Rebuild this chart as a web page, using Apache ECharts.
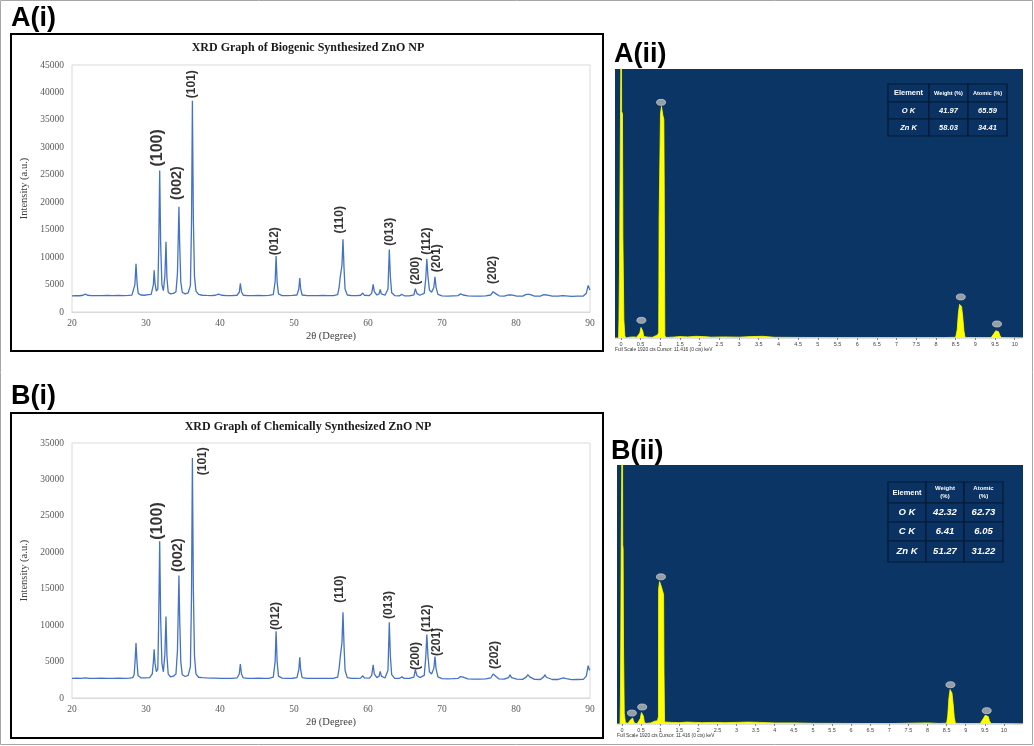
<!DOCTYPE html>
<html><head><meta charset="utf-8">
<script src="https://cdn.jsdelivr.net/npm/echarts@6/dist/echarts.min.js"></script>
<style>html,body{margin:0;padding:0;background:#fff}#c{width:1034px;height:746px}</style>
</head><body><div id="c"></div>
<script>
// ---------------- DATA ----------------
const xrdTicksX = [20, 30, 40, 50, 60, 70, 80, 90];
const xrdBiogenic = [[20,2950],[20.5,2980],[21,2960],[21.5,3050],[21.8,3250],[22.1,3050],[22.6,2980],[23.2,3000],[24,2970],[24.8,3010],[25.5,2980],[26.3,3020],[27,3000],[27.6,3040],[28.1,3080],
[28.35,3300],[28.5,5000],[28.65,8800],[28.8,5200],[28.95,3400],[29.3,3100],[29.8,3050],[30.3,3150],[30.5,3450],[30.7,3200],[30.9,3500],
[31.0,5000],[31.1,7600],[31.22,5200],[31.4,3800],[31.6,4200],[31.72,12000],[31.85,25800],[31.98,12500],[32.15,5000],[32.35,3900],
[32.55,6500],[32.7,12800],[32.83,6200],[33.0,3600],[33.3,3300],[33.7,3400],[34.05,3700],
[34.25,7000],[34.35,13000],[34.45,19150],[34.55,12500],[34.7,5500],[34.9,3600],[35.3,3300],[35.7,3500],[36.0,4800],
[36.15,16000],[36.27,38500],[36.4,17000],[36.55,6500],[36.75,3800],[37.1,3200],[37.6,3050],[38.2,3020],[38.8,3000],[39.4,3050],[39.8,3250],[40.2,3050],[40.9,2980],[41.6,3000],[42.3,3050],
[42.6,3600],[42.75,5200],[42.9,3700],[43.15,3050],[43.8,2980],[44.5,3000],[45.2,3040],[45.9,3000],[46.6,3020],[47.2,3150],
[47.45,5500],[47.58,10200],[47.72,5500],[47.9,3300],[48.4,3000],[49.1,2990],[49.8,3020],[50.4,3100],
[50.65,4200],[50.78,6200],[50.9,4200],[51.1,3100],[51.8,2980],[52.5,3000],[53.2,2970],[53.9,3010],[54.6,2980],[55.3,3000],[55.9,3150],
[56.1,4500],[56.22,6100],[56.35,5800],[56.48,8500],[56.62,13250],[56.76,8000],[56.9,4200],[57.2,3100],[57.8,3000],[58.5,2980],[59.0,3050],[59.3,3450],[59.5,3050],[60.2,3000],[60.5,3400],
[60.7,5050],[60.85,3700],[61.2,3100],[61.5,3300],[61.65,4100],[61.8,3300],[62.3,3050],[62.7,4200],
[62.88,11400],[63.02,6500],[63.2,3500],[63.6,3000],[64.2,2950],[64.6,3200],[64.9,2950],[65.6,2950],[66.2,3100],
[66.4,4250],[66.6,3400],[67.0,3050],[67.6,3400],[67.8,6000],[67.95,9700],[68.1,6500],[68.3,4000],[68.6,3600],[68.9,4500],[69.05,6400],[69.2,4500],[69.45,3200],
[70,2950],[70.8,2900],[71.5,2950],[72.2,3000],[72.5,3300],[72.65,3500],[72.85,3100],[73.5,2950],[74.3,2900],[75.1,2900],[75.9,2950],[76.6,3100],[76.9,3700],[77.05,3950],[77.3,3300],[77.7,2950],
[78.4,2900],[79.0,3100],[79.2,3450],[79.4,3100],[80.1,2900],[80.9,2900],[81.4,3200],[81.6,3450],[81.85,3200],[82.5,2900],[83.3,2880],[83.75,3150],[83.9,3450],[84.1,3100],[84.9,2880],[85.7,2880],
[86.3,3000],[86.45,3200],[86.7,2950],[87.5,2850],[88.3,2880],[89.1,2900],[89.5,3400],[89.75,4850],[89.9,4300],[90,4000]];

const xrdChemical = [[20,2700],[20.6,2720],[21.2,2680],[21.8,2750],[22.4,2700],[23.1,2690],[23.9,2720],[24.7,2700],[25.5,2680],[26.3,2720],[27.1,2700],[27.8,2730],[28.2,2800],
[28.4,3200],[28.52,5000],[28.65,7550],[28.78,5000],[28.92,3100],[29.3,2780],[29.9,2750],[30.5,2800],[30.85,3300],[31.0,5000],[31.1,6700],[31.22,4800],[31.4,3600],[31.6,4000],
[31.72,11000],[31.85,21500],[31.98,11000],[32.15,4800],[32.35,3600],[32.55,6000],[32.7,11200],[32.83,5800],[33.0,3300],[33.3,2900],[33.7,3000],[34.05,3300],
[34.25,6500],[34.35,11500],[34.45,16800],[34.55,11000],[34.7,5000],[34.9,3200],[35.3,2950],[35.7,3100],[36.0,4300],[36.15,14000],[36.27,32950],[36.4,15000],[36.55,5800],[36.75,3300],
[37.1,2850],[37.6,2800],[38.2,2760],[38.8,2740],[39.4,2720],[40.1,2700],[40.9,2690],[41.6,2700],[42.3,2750],[42.6,3300],[42.75,4650],[42.9,3300],[43.15,2750],[43.8,2690],[44.5,2700],
[45.2,2720],[45.9,2690],[46.6,2700],[47.2,2850],[47.45,5000],[47.58,9150],[47.72,5000],[47.9,3000],[48.4,2720],[49.1,2700],[49.8,2710],[50.4,2800],[50.65,3900],[50.78,5600],[50.9,3900],
[51.1,2800],[51.8,2690],[52.5,2700],[53.2,2680],[53.9,2700],[54.6,2690],[55.3,2700],[55.9,2850],[56.1,4100],[56.22,5350],[56.35,5100],[56.48,7600],[56.62,11750],[56.76,7200],[56.9,3800],
[57.2,2800],[57.8,2700],[58.5,2680],[59.0,2720],[59.3,3050],[59.5,2750],[60.2,2720],[60.5,3100],[60.7,4550],[60.85,3300],[61.2,2800],[61.5,3000],[61.65,3650],[61.8,3000],[62.3,2750],
[62.7,3800],[62.88,10400],[63.02,5800],[63.2,3200],[63.6,2700],[64.2,2680],[64.6,2900],[64.9,2680],[65.6,2680],[66.2,2850],[66.4,3900],[66.6,3100],[67.0,2800],[67.6,3100],[67.8,5500],
[67.95,8700],[68.1,5800],[68.3,3600],[68.6,3300],[68.9,4100],[69.05,5700],[69.2,4000],[69.45,2900],[70,2650],[70.8,2620],[71.5,2650],[72.2,2700],[72.5,2950],[72.65,3200],[72.85,2850],
[73.5,2620],[74.3,2600],[75.1,2580],[75.9,2620],[76.6,2750],[76.9,3300],[77.05,3550],[77.3,2950],[77.7,2620],[78.4,2580],[79.0,2800],[79.2,3200],[79.4,2800],[80.1,2580],[80.9,2560],
[81.4,2900],[81.6,3200],[81.85,2900],[82.5,2560],[83.3,2540],[83.75,2900],[83.9,3200],[84.1,2850],[84.9,2540],[85.7,2540],[86.4,2750],[86.6,3000],[86.8,2650],[87.5,2520],[88.3,2540],
[89.1,2560],[89.5,3000],[89.75,4450],[89.9,3900],[90,3800]];

const hklNames = ['(100)','(002)','(101)','(012)','(110)','(013)','(200)','(112)','(201)','(202)'];
const hklA_theta = [31.5, 34.2, 36.2, 47.4, 56.2, 62.9, 66.5, 67.9, 69.3, 76.9];
const hklA_int   = [29900, 23500, 41500, 12900, 16800, 14600, 7500, 12900, 9800, 7650];
const hklB_theta = [31.5, 34.3, 37.7, 47.5, 56.2, 62.8, 66.5, 67.9, 69.3, 77.1];
const hklB_int   = [24300, 19600, 32500, 11250, 14950, 12750, 5750, 10950, 7700, 5900];

const edsTicks = [0,0.5,1,1.5,2,2.5,3,3.5,4,4.5,5,5.5,6,6.5,7,7.5,8,8.5,9,9.5,10];
const edsFullScale = 1920;
const edsA = [[-0.15,0],[-0.06,0],[-0.05,131],[-0.035,535],[-0.01,1617],[0.005,1617],[0.012,2600],[0.018,1617],[0.04,1600],[0.05,726],[0.075,131],[0.1,15],[0.13,0],
[0.2,5],[0.3,8],[0.4,6],[0.45,8],[0.48,35],[0.51,75],[0.53,83],[0.555,50],[0.58,10],[0.62,4],[0.7,6],[0.8,5],[0.85,18],[0.93,22],[0.96,40],[0.97,850],[1.0,860],[1.005,1600],
[1.03,1653],[1.05,1640],[1.065,1590],[1.09,1560],[1.1,1100],[1.115,20],[1.14,4],[1.3,6],[1.5,10],[1.7,8],[1.9,12],[2.1,10],[2.3,6],[2.6,8],[3.0,6],[3.3,10],[3.6,12],[3.9,5],
[4.5,4],[5.5,3],[6.5,3],[7.5,3],[8.2,3],[8.5,5],[8.54,60],[8.57,180],[8.6,240],[8.62,250],[8.65,225],[8.68,150],[8.71,50],[8.74,4],[9.0,3],[9.4,3],[9.44,10],[9.48,35],[9.52,52],
[9.55,55],[9.59,45],[9.62,20],[9.66,3],[10.21,2]];
const edsB = [[-0.13,0],[-0.05,0],[-0.04,200],[-0.03,700],[-0.02,1330],[0.005,1330],[0.012,2600],[0.02,1330],[0.03,1300],[0.04,600],[0.06,80],[0.09,10],[0.11,0],
[0.16,5],[0.2,8],[0.22,30],[0.25,42],[0.28,44],[0.3,25],[0.33,5],[0.4,4],[0.45,8],[0.48,40],[0.51,85],[0.53,95],[0.56,60],[0.59,8],[0.65,5],[0.75,8],[0.85,20],[0.93,25],[0.955,55],
[0.96,1000],[0.985,1056],[1.0,1050],[1.03,1020],[1.06,990],[1.09,960],[1.1,400],[1.115,15],[1.14,5],[1.3,12],[1.5,10],[1.7,14],[1.9,12],[2.1,10],[2.4,12],[2.7,10],[3.0,12],[3.3,14],
[3.6,12],[4.0,8],[4.5,8],[5.0,5],[6.0,4],[7.0,3],[8.0,8],[8.3,4],[8.5,6],[8.53,60],[8.56,190],[8.59,255],[8.61,259],[8.64,230],[8.67,150],[8.7,50],[8.73,5],[9.0,3],[9.38,4],
[9.43,15],[9.47,45],[9.51,65],[9.55,69],[9.59,55],[9.62,25],[9.66,4],[10.5,2]];
const edsA_markers = [[0.52,126],[1.02,1682],[8.63,293],[9.55,100]];
const edsB_markers = [[0.26,81],[0.53,126],[1.02,1091],[8.6,291],[9.55,99]];

const tableA_header = ['Element','Weight (%)','Atomic (%)'];
const tableA_element = ['O K','Zn K'];
const tableA_weight = ['41.97','58.03'];
const tableA_atomic = ['65.59','34.41'];
const tableB_header = ['Element','Weight\n(%)','Atomic\n(%)'];
const tableB_element = ['O K','C K','Zn K'];
const tableB_weight = ['42.32','6.41','51.27'];
const tableB_atomic = ['62.73','6.05','31.22'];

const titleA = 'XRD Graph of Biogenic Synthesized ZnO NP';
const titleB = 'XRD Graph of Chemically Synthesized ZnO NP';
const edsFooter = 'Full Scale 1920 cts Cursor: 11.416 (0 cts) keV';

// ---------------- CHART ----------------
const SERIF = '"Liberation Serif", "Times New Roman", serif';
const SANS = '"Liberation Sans", Arial, sans-serif';
const chart = echarts.init(document.getElementById('c'), null, {renderer: 'canvas'});

function hklData(theta, inten) {
  return hklNames.map((n, i) => {
    let fs = 12;
    if (n === '(100)') fs = 16;
    if (n === '(002)') fs = 14.5;
    return {name: n, value: [theta[i], inten[i]], label: {fontSize: fs}};
  });
}

function xrdAxes(gridIndex, ymax) {
  return {
    x: {type: 'value', gridIndex, min: 20, max: 90, interval: 10,
        axisLine: {show: true, lineStyle: {color: '#d9d9d9', width: 1}},
        axisTick: {show: false}, splitLine: {show: false},
        axisLabel: {fontFamily: SERIF, fontSize: 9.5, color: '#595959', margin: 6, formatter: v => String(v)},
        name: '2θ (Degree)', nameLocation: 'middle', nameGap: 19,
        nameTextStyle: {fontFamily: SERIF, fontSize: 10.5, color: '#404040'}},
    y: {type: 'value', gridIndex, min: 0, max: ymax, interval: 5000,
        axisLine: {show: false}, axisTick: {show: false}, splitLine: {show: false},
        axisLabel: {fontFamily: SERIF, fontSize: 9.5, color: '#595959', margin: 8, formatter: v => String(v)},
        name: 'Intensity (a.u.)', nameLocation: 'middle', nameGap: 35,
        nameTextStyle: {fontFamily: SERIF, fontSize: 10.5, color: '#404040'}}
  };
}
function edsAxes(gridIndex, min, max) {
  return {
    x: {type: 'value', gridIndex, min, max,
        axisLine: {show: true, lineStyle: {color: '#d8d8d8', width: 1, type: 'dotted'}},
        axisTick: {show: true, customValues: edsTicks, length: 2, lineStyle: {color: '#888'}},
        splitLine: {show: false},
        axisLabel: {customValues: edsTicks, fontFamily: SANS, fontSize: 5.5, color: '#444', margin: 3}},
    y: {type: 'value', gridIndex, min: 0, max: edsFullScale, show: false}
  };
}

const aA = xrdAxes(0, 45000), aB = xrdAxes(1, 35000);
const eA = edsAxes(2, -0.15, 10.21), eB = edsAxes(3, -0.13, 10.5);

const hklLabel = {show: true, position: 'inside', rotate: 90, color: '#000', fontFamily: SANS, fontWeight: 'bold', formatter: '{b}'};

function tableElems(x0, y0, colW, rowH, header, cols, headFont, bodyFont) {
  const els = [];
  const rows = [header];
  for (let r = 0; r < cols[0].length; r++) rows.push(cols.map(c => c[r]));
  let y = y0;
  rows.forEach((row, ri) => {
    let x = x0;
    row.forEach((txt, ci) => {
      els.push({type: 'rect', z: 50, shape: {x, y, width: colW[ci], height: rowH[ri]},
        style: {fill: '#0a3262', stroke: '#051a36', lineWidth: 1.2}});
      let font = ri === 0 ? headFont[ci] : bodyFont;
      els.push({type: 'text', z: 51, x: x + colW[ci] / 2, y: y + rowH[ri] / 2,
        style: {text: txt, font, fill: '#ffffff', align: 'center', verticalAlign: 'middle',
                textAlign: 'center', textVerticalAlign: 'middle', lineHeight: 8}});
      x += colW[ci];
    });
    y += rowH[ri];
  });
  return els;
}

function txt(text, x, y, font, align, fill) {
  return {type: 'text', z: 60, x, y, style: {text, font, fill: fill || '#000', align: align || 'left', verticalAlign: 'middle', textAlign: align || 'left', textVerticalAlign: 'middle'}};
}

const graphics = [
  {type: 'rect', z: 0, shape: {x: 0.5, y: 0.5, width: 1032, height: 744}, style: {fill: 'none', stroke: '#a6a6a6', lineWidth: 1}},
  {type: 'rect', z: 0, shape: {x: 11, y: 34, width: 592, height: 317}, style: {fill: 'none', stroke: '#000', lineWidth: 2}},
  {type: 'rect', z: 0, shape: {x: 11, y: 413, width: 592, height: 325}, style: {fill: 'none', stroke: '#000', lineWidth: 2}},
  txt('A(i)', 11, 18.5, 'bold 27px ' + SANS),
  txt('B(i)', 11, 397, 'bold 27px ' + SANS),
  txt('A(ii)', 614, 55, 'bold 27px ' + SANS),
  txt('B(ii)', 611, 452, 'bold 27px ' + SANS),
  txt(titleA, 308, 48, 'bold 12px ' + SERIF, 'center', '#1a1a1a'),
  txt(titleB, 308, 427, 'bold 12px ' + SERIF, 'center', '#1a1a1a'),
  txt(edsFooter, 615, 349.5, '4.8px ' + SANS, 'left', '#333'),
  txt(edsFooter, 617, 735.5, '4.8px ' + SANS, 'left', '#333'),
].concat(
  tableElems(888, 84, [41, 39, 39], [18, 17, 17], tableA_header, [tableA_element, tableA_weight, tableA_atomic],
    ['bold 7.5px ' + SANS, 'bold 5.6px ' + SANS, 'bold 5.6px ' + SANS], 'italic bold 7.5px ' + SANS),
  tableElems(888, 482, [38, 38, 39], [21, 19, 19, 21], tableB_header, [tableB_element, tableB_weight, tableB_atomic],
    ['bold 7.5px ' + SANS, 'bold 6px ' + SANS, 'bold 6px ' + SANS], 'italic bold 9.5px ' + SANS)
);

const option = {
  backgroundColor: '#ffffff',
  animation: false,
  grid: [
    {left: 72, top: 65, width: 518, height: 247, show: true, borderColor: '#d9d9d9', borderWidth: 1, backgroundColor: 'transparent'},
    {left: 72, top: 443, width: 518, height: 255, show: true, borderColor: '#d9d9d9', borderWidth: 1, backgroundColor: 'transparent'},
    {left: 615, top: 69, width: 408, height: 269, show: true, borderWidth: 0, backgroundColor: '#0a3565'},
    {left: 617, top: 465, width: 406, height: 259, show: true, borderWidth: 0, backgroundColor: '#0a3565'}
  ],
  xAxis: [aA.x, aB.x, eA.x, eB.x],
  yAxis: [aA.y, aB.y, eA.y, eB.y],
  graphic: {elements: graphics},
  series: [
    {type: 'line', xAxisIndex: 0, yAxisIndex: 0, data: xrdBiogenic, showSymbol: false, symbol: 'none',
     lineStyle: {color: '#4472c4', width: 1.3}, z: 3},
    {type: 'line', xAxisIndex: 1, yAxisIndex: 1, data: xrdChemical, showSymbol: false, symbol: 'none',
     lineStyle: {color: '#4472c4', width: 1.3}, z: 3},
    {type: 'scatter', xAxisIndex: 0, yAxisIndex: 0, symbolSize: 0, silent: true, label: hklLabel, data: hklData(hklA_theta, hklA_int), z: 5},
    {type: 'scatter', xAxisIndex: 1, yAxisIndex: 1, symbolSize: 0, silent: true, label: hklLabel, data: hklData(hklB_theta, hklB_int), z: 5},
    {type: 'line', xAxisIndex: 2, yAxisIndex: 2, data: edsA, showSymbol: false, symbol: 'none',
     lineStyle: {color: '#ffff00', width: 0.8}, areaStyle: {color: '#ffff00', opacity: 1}, z: 3},
    {type: 'line', xAxisIndex: 3, yAxisIndex: 3, data: edsB, showSymbol: false, symbol: 'none',
     lineStyle: {color: '#ffff00', width: 0.8}, areaStyle: {color: '#ffff00', opacity: 1}, z: 3},
    {type: 'scatter', xAxisIndex: 2, yAxisIndex: 2, data: edsA_markers, symbol: 'circle', symbolSize: [9, 6],
     itemStyle: {color: '#b8b8b8', borderColor: '#dcdcdc', borderWidth: 0.8}, silent: true, z: 6},
    {type: 'scatter', xAxisIndex: 3, yAxisIndex: 3, data: edsB_markers, symbol: 'circle', symbolSize: [9, 6],
     itemStyle: {color: '#b8b8b8', borderColor: '#dcdcdc', borderWidth: 0.8}, silent: true, z: 6}
  ]
};
chart.setOption(option);
</script></body></html>
